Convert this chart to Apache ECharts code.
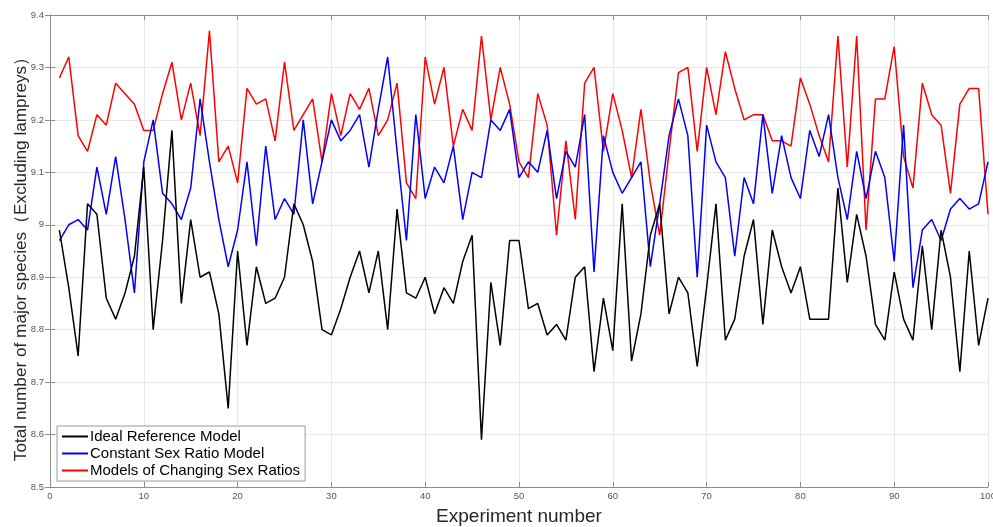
<!DOCTYPE html>
<html lang="en">
    <head>
        <meta charset="utf-8">
        <title>Experiment chart</title>
        <script src="https://cdn.jsdelivr.net/npm/echarts@6/dist/echarts.min.js"></script>
        <style>
            body { margin: 0; background: #fff; }
        </style>
    </head>

    <body>
        <div id="echart" style="width: 993px; height: 527px;"></div>
        <script>
            let idealModel = [
                8.99, 8.88, 8.75, 9.04, 9.02, 8.86, 8.82, 8.87, 8.94, 9.11,
                8.80, 8.97, 9.18, 8.85, 9.01, 8.90, 8.91, 8.83, 8.65, 8.95,
                8.77, 8.92, 8.85, 8.86, 8.90, 9.04, 9.00, 8.93, 8.80, 8.79,
                8.84, 8.90, 8.95, 8.87, 8.95, 8.80, 9.03, 8.87, 8.86, 8.90,
                8.83, 8.88, 8.85, 8.93, 8.98, 8.59, 8.89, 8.77, 8.97, 8.97,
                8.84, 8.85, 8.79, 8.81, 8.78, 8.90, 8.92, 8.72, 8.86, 8.76,
                9.04, 8.74, 8.83, 8.98, 9.04, 8.83, 8.90, 8.87, 8.73, 8.88,
                9.04, 8.78, 8.82, 8.94, 9.01, 8.81, 8.99, 8.92, 8.87, 8.92,
                8.82, 8.82, 8.82, 9.07, 8.89, 9.02, 8.94, 8.81, 8.78, 8.91,
                8.82, 8.78, 8.96, 8.80, 8.99, 8.90, 8.72, 8.95, 8.77, 8.86
            ];
            let constantModel = [
                8.97, 9.00, 9.01, 8.99, 9.11, 9.02, 9.13, 9.01, 8.87, 9.12,
                9.20, 9.06, 9.04, 9.01, 9.07, 9.24, 9.12, 9.01, 8.92, 8.99,
                9.12, 8.96, 9.15, 9.01, 9.05, 9.02, 9.20, 9.04, 9.12, 9.20,
                9.16, 9.18, 9.21, 9.11, 9.22, 9.32, 9.14, 8.97, 9.21, 9.05,
                9.11, 9.08, 9.15, 9.01, 9.10, 9.09, 9.20, 9.18, 9.22, 9.09,
                9.12, 9.10, 9.18, 9.05, 9.14, 9.11, 9.21, 8.91, 9.17, 9.10,
                9.06, 9.09, 9.12, 8.92, 9.04, 9.17, 9.24, 9.17, 8.90, 9.19,
                9.12, 9.09, 8.94, 9.09, 9.04, 9.21, 9.06, 9.17, 9.09, 9.05,
                9.18, 9.13, 9.21, 9.09, 9.01, 9.14, 9.05, 9.14, 9.09, 8.93,
                9.19, 8.88, 8.99, 9.01, 8.97, 9.03, 9.05, 9.03, 9.04, 9.12
            ];
            let changingModel = [
                9.28, 9.32, 9.17, 9.14, 9.21, 9.19, 9.27, 9.25, 9.23, 9.18,
                9.18, 9.25, 9.31, 9.20, 9.27, 9.17, 9.37, 9.12, 9.15, 9.08,
                9.26, 9.23, 9.24, 9.16, 9.31, 9.18, 9.21, 9.24, 9.12, 9.25,
                9.17, 9.25, 9.22, 9.26, 9.17, 9.20, 9.27, 9.08, 9.05, 9.32,
                9.23, 9.30, 9.15, 9.22, 9.18, 9.36, 9.20, 9.30, 9.23, 9.12,
                9.09, 9.25, 9.19, 8.98, 9.16, 9.01, 9.27, 9.30, 9.14, 9.25,
                9.18, 9.09, 9.22, 9.08, 8.98, 9.14, 9.29, 9.30, 9.14, 9.30,
                9.21, 9.33, 9.26, 9.20, 9.21, 9.21, 9.16, 9.16, 9.15, 9.28,
                9.23, 9.17, 9.12, 9.36, 9.11, 9.36, 8.99, 9.24, 9.24, 9.34,
                9.13, 9.07, 9.27, 9.21, 9.19, 9.06, 9.23, 9.26, 9.26, 9.02
            ];
            let seriesNames = ['Ideal Reference Model', 'Constant Sex Ratio Model', 'Models of Changing Sex Ratios'];
            let seriesColors = ['#000000', '#0000ff', '#ff0000'];

            let toPoints = arr => arr.map((v, i) => [i + 1, v]);
            let allData = [idealModel, constantModel, changingModel];

            let font = 'Arial, "Liberation Sans", sans-serif';
            let axisGrey = '#8c8c8c';
            let gridGrey = '#e8e8e8';

            let myChart = echarts.init(document.getElementById('echart'));

            let hiddenX = {
                type: 'value', position: 'top', min: 0, max: 100, interval: 10,
                axisLine: { show: true, lineStyle: { color: axisGrey } },
                axisTick: { show: true, inside: true, length: 5, lineStyle: { color: axisGrey } },
                axisLabel: { show: false },
                splitLine: { show: false }
            };
            let hiddenY = {
                type: 'value', position: 'right', min: 8.5, max: 9.4, interval: 0.1,
                axisLine: { show: true, lineStyle: { color: axisGrey } },
                axisTick: { show: true, inside: true, length: 5, lineStyle: { color: axisGrey } },
                axisLabel: { show: false },
                splitLine: { show: false }
            };

            let option = {
                animation: false,
                backgroundColor: '#ffffff',
                grid: { left: 50, right: 5, top: 15, bottom: 40, outerBoundsMode: 'none', containLabel: false },
                legend: {
                    orient: 'vertical',
                    left: 57,
                    top: 426,
                    icon: 'rect',
                    itemWidth: 26,
                    itemHeight: 2,
                    itemGap: 2,
                    padding: [3, 5, 3, 5],
                    backgroundColor: '#ffffff',
                    borderColor: '#9a9a9a',
                    borderWidth: 1,
                    borderRadius: 0,
                    textStyle: { fontFamily: font, fontSize: 15, color: '#000', padding: [0, 0, 0, -3] },
                    data: seriesNames
                },
                xAxis: [{
                    type: 'value',
                    min: 0, max: 100, interval: 10,
                    name: 'Experiment number',
                    nameLocation: 'middle',
                    nameGap: 20,
                    nameMoveOverlap: false,
                    nameTextStyle: { fontFamily: font, fontSize: 19, color: '#262626', verticalAlign: 'top' },
                    axisLine: { lineStyle: { color: axisGrey } },
                    axisTick: { inside: true, length: 5, lineStyle: { color: axisGrey } },
                    axisLabel: { fontFamily: font, fontSize: 9.5, color: '#555', margin: 4 },
                    splitLine: { show: true, lineStyle: { color: gridGrey } }
                }, hiddenX],
                yAxis: [{
                    type: 'value',
                    min: 8.5, max: 9.4, interval: 0.1,
                    name: 'Total number of major species\uff08Excluding lampreys\uff09',
                    nameLocation: 'middle',
                    nameGap: 20,
                    nameMoveOverlap: false,
                    nameTextStyle: {
                        fontFamily: font, fontSize: 17.2, color: '#262626',
                        verticalAlign: 'bottom', padding: [0, 8, 0, 0]
                    },
                    axisLine: { show: true, lineStyle: { color: axisGrey } },
                    axisTick: { show: true, inside: true, length: 5, lineStyle: { color: axisGrey } },
                    axisLabel: {
                        fontFamily: font, fontSize: 9.5, color: '#555', margin: 6,
                        formatter: v => String(parseFloat(v.toFixed(1)))
                    },
                    splitLine: { show: true, lineStyle: { color: gridGrey } }
                }, hiddenY],
                series: seriesNames.map((name, k) => ({
                    name: name,
                    type: 'line',
                    data: toPoints(allData[k]),
                    symbol: 'none',
                    lineStyle: { width: 1.5, color: seriesColors[k] },
                    itemStyle: { color: seriesColors[k] },
                    z: 3 - k
                }))
            };
            myChart.setOption(option);
        </script>
    </body>
</html>
